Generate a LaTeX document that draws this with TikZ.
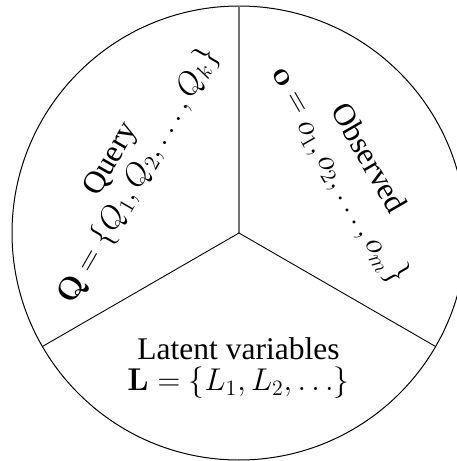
\documentclass[tikz,border=0pt]{standalone}
\usepackage[no-math]{fontspec}
\setmainfont{Liberation Serif}
\begin{document}
\begin{tikzpicture}[x=1pt,y=1pt,
  lbl/.style={align=center,font=\fontsize{17.28}{17.55}\selectfont,inner sep=0pt,scale=1.823},
  rim/.style={line width=1pt,draw=black},
  spoke/.style={line width=0.9pt,draw=black},
  upspoke/.style={line width=1.1pt,draw=black!55}]
\useasboundingbox (0,0) rectangle (457,-461);
\clip (0,0) rectangle (457,-461);
\coordinate (c) at (239,-233);
\path (c) ++(90:227) coordinate (top);
\path (c) ++(210:227) coordinate (ll);
\path (c) ++(330:227) coordinate (lr);
\draw[rim] (c) circle[radius=227];
\draw[upspoke] (c) -- (top);
\draw[spoke] (c) -- (ll);
\draw[spoke] (c) -- (lr);
\node[lbl,rotate=60] (query) at (126,-168) {Query\\$\mathbf{Q}=\{Q_1,Q_2,\ldots,Q_k\}$};
\node[lbl,rotate=-60] (obs) at (351.5,-168.5) {Observed\\$\mathbf{o}={}_{\textstyle o_1,o_2,\ldots,o_m}\}$};
\node[lbl] (lat) at (238.5,-368) {Latent variables\\$\mathbf{L}=\{L_1,L_2,\ldots\}$};
\end{tikzpicture}
\end{document}
